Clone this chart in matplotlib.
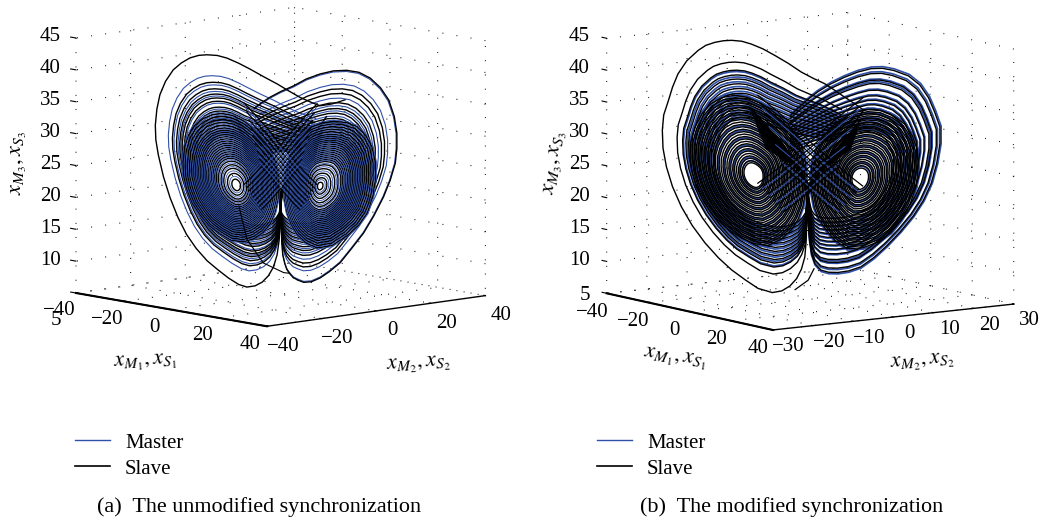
import numpy as np
import matplotlib
matplotlib.use("Agg")
import matplotlib.pyplot as plt
from matplotlib.lines import Line2D
from mpl_toolkits.mplot3d import proj3d

plt.rcParams['font.family'] = ['Liberation Serif', 'DejaVu Serif']
plt.rcParams['mathtext.fontset'] = 'stix'
plt.rcParams['grid.color'] = 'black'
plt.rcParams['grid.linewidth'] = 0.8
plt.rcParams['grid.linestyle'] = (0, (0.8, 12))

SERIES = ['Master', 'Slave']
CAPTIONS = ['(a)  The unmodified synchronization', '(b)  The modified synchronization']
Z_TICKS = [5, 10, 15, 20, 25, 30, 35, 40, 45]
X1_TICKS = [-40, -20, 0, 20, 40]
X2_TICKS_A = [-40, -20, 0, 20, 40]
X2_TICKS_B = [-30, -20, -10, 0, 10, 20, 30]

# Panel (a): strands (x1 = u, x2 = u)
A_EYE_L = (-8.6, 22.0)
A_EYE_R = (7.6, 22.0)
A_OUTER_L_U = [9, 6.5, 4, 2, .6, 0, -.1, -.3, -.7, -1.4, -2.4, -3.6, -5, -6.6, -8.2, -10.2, -12.3, -14.4, -16.5, -18.4, -20.1, -21.6, -22.9, -23.9, -24.4, -24.5, -24.2, -23.6, -22.5, -21, -19.4, -17.7, -16, -14.4, -12.4, -10.5, -8.2, -6, -3.3, -.7, 1.6, 3.8, 5.8, 7.7]
A_OUTER_L_Z = [33, 30, 27, 24, 21.5, 19, 16, 13.5, 11.2, 9.3, 7.9, 6.9, 6.3, 6.1, 6.5, 7.5, 8.8, 10.2, 12.1, 14.3, 17, 20, 23.3, 26.7, 29.1, 31.4, 33.9, 36.2, 38.3, 40.1, 41.2, 42, 42.4, 42.5, 42.4, 42, 41.2, 40.3, 39.1, 38, 36.9, 35.9, 35.2, 34.6]
A_OUTER_L_P = [5, 3.5, 2, 1, .3, 0, 0, 0, 0, -.5, -1, -2, -3, -4, -5, -6, -7, -8] + [-8.6] * 20 + [-7, -5, -3, -1, 1, 3]
A_OUTER_R_U = [-9, -6.5, -4, -2, -.6, 0, .1, .2, .4, .8, 1.2, 1.8, 2.5, 3.5, 4.5, 6, 7.7, 9.5, 11.6, 13.8, 16.2, 18.2, 20.1, 21.4, 22.4, 22.7, 22.7, 22.2, 21.1, 19.5, 17.5, 15.3, 12.9, 10.3, 7.7, 5, 2.5, 0, -2.1, -3.8, -5.3]
A_OUTER_R_Z = [33, 30, 27, 24, 21.5, 19, 16, 13.5, 11.2, 9.8, 8.9, 8.2, 7.6, 7.2, 6.9, 7, 7.6, 8.6, 10, 12.2, 14.7, 17.4, 20.4, 23, 25.7, 28, 30.4, 33, 35.6, 37.5, 39, 39.9, 40.2, 40.1, 39.6, 38.8, 37.7, 36.8, 35.9, 35, 34.1]
A_OUTER_R_P = [-5, -3.5, -2, -1, -.3, 0, 0, 0, 0, .5, 1, 1.5, 2, 3, 4, 5, 6, 7] + [7.6] * 17 + [6.5, 5, 3, 1, -1, -3]
A_INNER_L_U = [-.4, -.5, -1.1, -2, -3.4, -5.2, -7.3, -9.6, -11.8, -14, -15.7, -17.3, -18.4, -19, -19.1, -18.8, -18, -16.8, -15.1, -13.4, -11.5, -9.4, -7.3, -5.2, -3.4, -2, -1.1, -.5, -.4]
A_INNER_L_Z = [22, 19.9, 17.8, 16.1, 14.7, 13.7, 13.2, 13.4, 14.4, 15.7, 17.3, 19.2, 21.5, 23.6, 25.7, 27.9, 29.9, 31.4, 32.5, 33.1, 33.3, 33, 32.2, 30.9, 29.3, 27.6, 25.7, 23.8, 22]
A_INNER_R_U = [.6, .7, 1.2, 2, 3.2, 4.9, 7.1, 10, 12.9, 15.2, 16.9, 18, 18.5, 18.5, 17.8, 16.6, 14.9, 12.8, 10.3, 8, 5.8, 3.9, 2.5, 1.3, .6]
A_INNER_R_Z = [22, 19.9, 17.8, 16, 14.4, 13.1, 12.3, 12.7, 14.2, 15.9, 17.8, 20.4, 23.1, 25.8, 28.3, 30, 31.4, 32, 32.2, 31.9, 31.2, 29.9, 28.3, 25.2, 22]
A_TAIL_U = [-8.2, -6.6, -3.4, 0.6, 1.9]
A_TAIL_Z = [18.9, 13.6, 9.9, 8.4, 8.3]
A_HOOK_U = [7.7, 10, 12.7]
A_HOOK_Z = [34.6, 34.9, 35.6]
CROSS_DOWN_R_U = [-6, -4, -2, 0, 2, 4, 6]
CROSS_DOWN_L_U = [6, 4, 2, 0, -2, -4, -6]
CROSS_Z = [31.5, 29.8, 28, 26, 24.2, 22.4, 20.8]
A_CROSS_SLAVE = [1.2, 1.12, 1.05, 0.98, 0.91, 0.84, 0.77, 0.7, 0.63]
A_CROSS_MASTER = [1.16, 1.08, 1.01, 0.94, 0.87, 0.8, 0.73, 0.66]
B_CROSS_SLAVE = [1.3, 1.22, 1.14, 1.06, 0.98, 0.9, 0.82, 0.74, 0.66]
B_CROSS_MASTER = [1.18, 1.02, 0.86, 0.7]

A_SLAVE_OUTER_L = [1.0, 0.79, 0.74, 0.70, 0.67, 0.645, 0.60, 0.57, 0.53, 0.50, 0.46, 0.42, 0.39]
A_MASTER_OUTER_L = [0.84, 0.77, 0.72, 0.685, 0.63, 0.585, 0.55, 0.515, 0.48, 0.44, 0.405]
A_SLAVE_OUTER_R = [1.0, 0.84, 0.80, 0.72, 0.67, 0.63, 0.585, 0.55, 0.51, 0.47, 0.43, 0.39]
A_MASTER_OUTER_R = [0.99, 0.88, 0.76, 0.695, 0.65, 0.605, 0.565, 0.53, 0.49, 0.45, 0.41]
A_SLAVE_INNER_L = [1.0, 0.96, 0.92, 0.88, 0.84, 0.80, 0.77, 0.74, 0.71, 0.68, 0.65, 0.62, 0.59, 0.56, 0.53, 0.50, 0.47, 0.44, 0.41, 0.38, 0.34, 0.29, 0.24, 0.17, 0.09]
A_MASTER_INNER_L = [1.02, 0.98, 0.94, 0.90, 0.86, 0.82, 0.785, 0.755, 0.725, 0.695, 0.665, 0.635, 0.605, 0.575, 0.545, 0.515, 0.485, 0.455, 0.425, 0.395, 0.36, 0.315, 0.265, 0.205, 0.13]
A_SLAVE_INNER_R = [1.0, 0.96, 0.92, 0.88, 0.84, 0.80, 0.77, 0.74, 0.71, 0.68, 0.65, 0.62, 0.59, 0.56, 0.53, 0.50, 0.47, 0.44, 0.41, 0.38, 0.33, 0.27, 0.20, 0.13, 0.06]
A_MASTER_INNER_R = [1.02, 0.98, 0.94, 0.90, 0.86, 0.82, 0.785, 0.755, 0.725, 0.695, 0.665, 0.635, 0.605, 0.575, 0.545, 0.515, 0.485, 0.455, 0.425, 0.395, 0.35, 0.30, 0.235, 0.165, 0.10]

# Panel (b): strands (x1 = 4/3 u, x2 = u)
B_EYE_L = (-8.2, 24.0)
B_EYE_R = (7.25, 24.0)
B_OUTER_L_U = [8, 6, 3.8, 1.9, .5, -.4, -.5, -.6, -.8, -1.3, -2, -3, -4.2, -5.6, -7.7, -9.6, -11.6, -13.5, -15.5, -17.4, -19, -20.3, -21.2, -21.7, -21.8, -21.6, -20.9, -20.3, -19.5, -18.2, -16.5, -15.4, -14.1, -12.8, -11.6, -10.1, -8.7, -7, -5.2, -3.2, -1.3, .4, 2.1, 3.6, 5]
B_OUTER_L_Z = [35, 32, 29, 26, 23, 21, 17, 14, 11.5, 9.6, 8.1, 6.9, 6.1, 5.8, 6.4, 7.7, 9.2, 11, 13.3, 16, 18.9, 22, 25.1, 28, 30.8, 33.2, 35.5, 37.6, 39.7, 41.8, 43.5, 44.3, 44.8, 45.1, 45.2, 45.1, 44.7, 44, 43, 41.8, 40.5, 39.6, 38.8, 37.8, 36.8]
B_OUTER_L_P = [4.5, 3.2, 2, 1, .2, -.5, -.5, -.5, -.5, -1, -1.5, -2.5, -3.5, -4.5, -6, -7, -8] + [-8.2] * 22 + [-6.5, -5, -3, -1, 1, 3]
B_OUTER_R_U = [-9, -6.5, -4, -2, -.9, -.4, -.3, -.1, .2, .7, 1.6, 2.7, 4.1, 5.7, 7.5, 9.4, 11.4, 13.4, 15.3, 16.8, 18, 18.8, 19.3, 19.3, 18.5, 17.6, 16.3, 14.6, 12.4, 10.7, 9, 7, 5, 3, 1.1, -.4, -1.8, -3]
B_OUTER_R_Z = [35, 32, 29, 26, 23, 21, 17, 14, 11.8, 10.3, 9.3, 9, 9, 9.3, 10, 11.5, 13.5, 15.8, 18.3, 20.8, 23.6, 26.7, 29.9, 32.6, 35, 37.2, 39.2, 40.6, 41.4, 41.7, 41.6, 41, 40.1, 39, 37.7, 36.4, 35, 33.7]
B_OUTER_R_P = [-5, -3.5, -2, -1, -.4, -.3, -.2, 0, .2, .5, 1, 2, 3, 4, 5, 6, 7] + [7.25] * 15 + [6, 4.5, 3, 1, -1, -3]
B_INNER_L_U = [-.6, -.7, -1.1, -1.8, -2.8, -4.3, -6.2, -8.2, -10.1, -12.2, -14.1, -15.6, -16.8, -17.4, -17.7, -17.6, -17, -16, -14.6, -13, -11.1, -9.2, -7.2, -5.2, -3.3, -1.9, -1.1, -.7, -.6]
B_INNER_L_Z = [24.1, 21.7, 19.4, 17.4, 15.7, 14.2, 13.2, 13.4, 14.2, 15.6, 17.4, 19.6, 22.1, 24.4, 26.7, 29.1, 31.4, 33.5, 35.2, 36.2, 36.6, 36.3, 35.4, 34, 32.3, 30.3, 28.2, 26.1, 24.1]
B_INNER_R_U = [.1, .2, .6, 1.3, 2.4, 3.7, 5.5, 7.8, 10, 11.9, 13.4, 14.7, 15.6, 15.9, 15.8, 15.1, 13.9, 12.3, 10.4, 8.5, 6.5, 4.7, 3.1, 1.8, .9, .3, .1]
B_INNER_R_Z = [24.1, 21.7, 19.4, 17.5, 15.8, 14.2, 13, 13.2, 14.2, 15.7, 17.7, 20.2, 23, 25.9, 28.7, 30.9, 32.8, 34, 34.8, 34.9, 34.4, 33.4, 32, 30.3, 28.3, 26.2, 24.1]
B_HOOK_U = [5, 6.5, 8]
B_HOOK_Z = [36.8, 35.8, 34.7]
B_TAIL_U = [.6, -.3, -2.3]
B_TAIL_Z = [9.8, 7.9, 6.3]

B_SLAVE_OUTER_L = [1.0, 0.84, 0.78, 0.745, 0.715, 0.68, 0.645, 0.61, 0.575, 0.54, 0.505, 0.47, 0.435]
B_MASTER_OUTER_L = [0.77, 0.73, 0.695, 0.66, 0.625, 0.59, 0.555, 0.52, 0.485, 0.45]
B_SLAVE_OUTER_R = [0.985, 0.94, 0.88, 0.85, 0.79, 0.74, 0.70, 0.66, 0.62, 0.58, 0.54, 0.50, 0.46, 0.42]
B_MASTER_OUTER_R = [1.0, 0.955, 0.89, 0.865, 0.80, 0.75, 0.71, 0.67, 0.63, 0.59, 0.55, 0.51, 0.47]
B_SLAVE_INNER_L = [1.0, 0.97, 0.94, 0.91, 0.88, 0.85, 0.82, 0.79, 0.76, 0.73, 0.70, 0.67, 0.64, 0.61, 0.58, 0.55, 0.52, 0.49, 0.46, 0.43, 0.40, 0.37, 0.34, 0.31, 0.28, 0.25, 0.22, 0.19, 0.165]
B_MASTER_INNER_L = [1.02, 0.955, 0.865, 0.775, 0.715, 0.625, 0.565, 0.475, 0.385, 0.325, 0.235, 0.19]
B_SLAVE_INNER_R = [1.0, 0.97, 0.94, 0.91, 0.88, 0.85, 0.82, 0.79, 0.76, 0.73, 0.70, 0.67, 0.64, 0.61, 0.58, 0.55, 0.52, 0.49, 0.46, 0.43, 0.40, 0.37, 0.34, 0.31, 0.28, 0.25, 0.22, 0.19, 0.155]
B_MASTER_INNER_R = [1.02, 0.955, 0.865, 0.775, 0.715, 0.625, 0.565, 0.475, 0.385, 0.325, 0.235, 0.18]

BLUE = '#2f50a8'
CROSS_PIVOT_Z = 14.0
W, H = 1047, 522
fig = plt.figure(figsize=(W / 100, H / 100), dpi=100, facecolor='white')


def rings(ax, u, z, pivot, zc, scales, ratio, color, lw):
    u, z, pivot = np.asarray(u, float), np.asarray(z, float), np.asarray(pivot, float)
    for s in scales:
        uu = pivot + s * (u - pivot)
        zz = zc + s * (z - zc)
        ax.plot(uu * ratio, uu, zz, color=color, lw=lw, solid_joinstyle='round', solid_capstyle='butt')


def fit(ax, aspect, left_px, x2lim):
    ax.set_box_aspect(aspect, zoom=1)
    ax.apply_aspect()
    def px(x, y, z):
        X, Y, _ = proj3d.proj_transform(x, y, z, ax.get_proj())
        return ax.transData.transform((X, Y))
    a = px(-40, x2lim[0], 5)
    b = px(-40, x2lim[0], 45)
    zoom = 255.0 / abs(b[1] - a[1])
    ax.set_box_aspect(aspect, zoom=zoom)
    ax.apply_aspect()
    a = px(-40, x2lim[0], 5)
    pos = ax.get_position()
    ax.set_position([pos.x0 + (left_px[0] - a[0]) / W, pos.y0 + ((H - left_px[1]) - a[1]) / H, pos.width, pos.height])


def panel(rect, view, aspect, left_px, x2ticks, x2lim, ratio, offs, data):
    ax = fig.add_axes(rect, projection='3d', proj_type='ortho')
    ax.patch.set_visible(False)
    ax.computed_zorder = False
    for item in data:
        rings(ax, *item[:4], item[4], ratio, item[5], item[6])
    ax.set_xlim(-40, 40, view_margin=0)
    ax.set_ylim(*x2lim, view_margin=0)
    ax.set_zlim(5, 45, view_margin=0)
    ax.view_init(elev=view[0], azim=view[1])
    ax.set_xticks(X1_TICKS)
    ax.set_yticks(x2ticks)
    ax.set_zticks(Z_TICKS)
    ax.zaxis._axinfo['juggled'] = (1, 0, 2)
    for axis, lw, out in ((ax.xaxis, 1.0, 0.1), (ax.yaxis, 1.0, 0.1), (ax.zaxis, 1.5, 0.35)):
        axis.set_pane_color((1, 1, 1, 0))
        axis.pane.set_edgecolor((1, 1, 1, 0))
        axis.line.set_color('black')
        axis.line.set_linewidth(lw)
        axis._axinfo['tick']['inward_factor'] = 0.0
        axis._axinfo['tick']['outward_factor'] = out
        axis.offsetText.set_visible(False)
        for t in axis.get_major_ticks():
            t.label1.set_visible(False)
            t.label2.set_visible(False)
    fit(ax, aspect, left_px, x2lim)
    fs = 15
    for t in X1_TICKS:
        s = f'\u2212{abs(t)}' if t < 0 else str(t)
        ax.text(t, x2lim[0] + offs[0], 5 + offs[1], s, ha='center', va='center', fontsize=fs)
    for t in x2ticks:
        s = f'\u2212{abs(t)}' if t < 0 else str(t)
        ax.text(40 + offs[2], t, 5 + offs[3], s, ha='center', va='center', fontsize=fs)
    for t in Z_TICKS:
        dz = offs[5] if t == 5 else 0.5
        ax.text(-40, x2lim[0] + offs[4], t + dz, str(t), ha='right', va='center', fontsize=fs)
    return ax


panel([0.0, 0.0, 0.5, 1.0], (9.0, -41.9), (285.6, 293.4, 258), (76, 293),
      X2_TICKS_A, (-40, 40), 1.0, (-6.2, -2.45, 6.7, -2.7, -5.5, -4.0),
      [(A_OUTER_L_U, A_OUTER_L_Z, A_OUTER_L_P, A_EYE_L[1], A_MASTER_OUTER_L, BLUE, 0.8),
       (A_OUTER_R_U, A_OUTER_R_Z, A_OUTER_R_P, A_EYE_R[1], A_MASTER_OUTER_R, BLUE, 0.8),
       (A_OUTER_L_U, A_OUTER_L_Z, A_OUTER_L_P, A_EYE_L[1], A_SLAVE_OUTER_L, 'black', 1.0),
       (A_OUTER_R_U, A_OUTER_R_Z, A_OUTER_R_P, A_EYE_R[1], A_SLAVE_OUTER_R, 'black', 1.0),
       (A_INNER_L_U, A_INNER_L_Z, A_EYE_L[0], A_EYE_L[1], A_SLAVE_INNER_L, 'black', 1.0),
       (A_INNER_R_U, A_INNER_R_Z, A_EYE_R[0], A_EYE_R[1], A_SLAVE_INNER_R, 'black', 1.0),
       (A_INNER_L_U, A_INNER_L_Z, A_EYE_L[0], A_EYE_L[1], A_MASTER_INNER_L, BLUE, 0.6),
       (A_INNER_R_U, A_INNER_R_Z, A_EYE_R[0], A_EYE_R[1], A_MASTER_INNER_R, BLUE, 0.6),
       (CROSS_DOWN_R_U, CROSS_Z, 0.0, CROSS_PIVOT_Z, A_CROSS_SLAVE, 'black', 0.9),
       (CROSS_DOWN_L_U, CROSS_Z, 0.0, CROSS_PIVOT_Z, A_CROSS_SLAVE, 'black', 0.9),
       (CROSS_DOWN_R_U, CROSS_Z, 0.0, CROSS_PIVOT_Z, A_CROSS_MASTER, BLUE, 0.6),
       (CROSS_DOWN_L_U, CROSS_Z, 0.0, CROSS_PIVOT_Z, A_CROSS_MASTER, BLUE, 0.6),
       (A_TAIL_U, A_TAIL_Z, A_TAIL_U, 0.0, [1.0], 'black', 0.8),
       (A_HOOK_U, A_HOOK_Z, A_HOOK_U, 0.0, [1.0], 'black', 0.9)])
panel([0.5, 0.0, 0.5, 1.0], (8.86, -34.9), (291, 294.7, 258.8), (606.7, 293.3),
      X2_TICKS_B, (-30, 30), 4 / 3, (-3.7, -2.7, 7.7, -2.1, -4.2, 0.0),
      [(B_INNER_L_U, B_INNER_L_Z, B_EYE_L[0], B_EYE_L[1], B_MASTER_INNER_L, BLUE, 1.2),
       (B_INNER_R_U, B_INNER_R_Z, B_EYE_R[0], B_EYE_R[1], B_MASTER_INNER_R, BLUE, 1.2),
       (B_OUTER_L_U, B_OUTER_L_Z, B_OUTER_L_P, B_EYE_L[1], B_MASTER_OUTER_L, BLUE, 1.2),
       (B_OUTER_R_U, B_OUTER_R_Z, B_OUTER_R_P, B_EYE_R[1], B_MASTER_OUTER_R, BLUE, 1.2),
       (B_INNER_L_U, B_INNER_L_Z, B_EYE_L[0], B_EYE_L[1], B_SLAVE_INNER_L, 'black', 1.0),
       (B_INNER_R_U, B_INNER_R_Z, B_EYE_R[0], B_EYE_R[1], B_SLAVE_INNER_R, 'black', 1.0),
       (B_OUTER_L_U, B_OUTER_L_Z, B_OUTER_L_P, B_EYE_L[1], B_SLAVE_OUTER_L, 'black', 1.0),
       (B_OUTER_R_U, B_OUTER_R_Z, B_OUTER_R_P, B_EYE_R[1], B_SLAVE_OUTER_R, 'black', 1.0),
       (CROSS_DOWN_R_U, CROSS_Z, 0.0, CROSS_PIVOT_Z, B_CROSS_MASTER, BLUE, 0.8),
       (CROSS_DOWN_L_U, CROSS_Z, 0.0, CROSS_PIVOT_Z, B_CROSS_MASTER, BLUE, 0.8),
       (CROSS_DOWN_R_U, CROSS_Z, 0.0, CROSS_PIVOT_Z, B_CROSS_SLAVE, 'black', 0.9),
       (CROSS_DOWN_L_U, CROSS_Z, 0.0, CROSS_PIVOT_Z, B_CROSS_SLAVE, 'black', 0.9),
       (B_HOOK_U, B_HOOK_Z, B_HOOK_U, 0.0, [1.0], 'black', 0.9),
       (B_TAIL_U, B_TAIL_Z, B_TAIL_U, 0.0, [1.0], 'black', 0.9)])

ml = r'$x_{M_1},x_{S_1}$'
m2 = r'$x_{M_2},x_{S_2}$'
m3 = r'$x_{M_3},x_{S_3}$'
for x, y, s, rot in [(145, 363, ml, 3), (418, 365, m2, 4), (19, 163, m3, 90),
                     (675, 359, ml, -8), (922, 363, m2, 5), (556, 163, m3, 82)]:
    fig.text(x / W, 1 - y / H, s, ha='center', va='center', rotation=rot, fontsize=16)


def legend(x_px):
    handles = [Line2D([], [], color=BLUE, lw=1.0), Line2D([], [], color='black', lw=1.2)]
    fig.legend(handles, SERIES, loc='upper left', bbox_to_anchor=(x_px / W, 1 - 433 / H),
               frameon=False, fontsize=15, handlelength=1.68, handletextpad=0.72,
               labelspacing=0.31, borderaxespad=0, borderpad=0)

legend(75)
legend(597)
fig.text(97 / W, 1 - 507 / H, CAPTIONS[0], ha='left', va='center', fontsize=15.9)
fig.text(640 / W, 1 - 507 / H, CAPTIONS[1], ha='left', va='center', fontsize=15.9)
fig.savefig('out.png', dpi=100)
